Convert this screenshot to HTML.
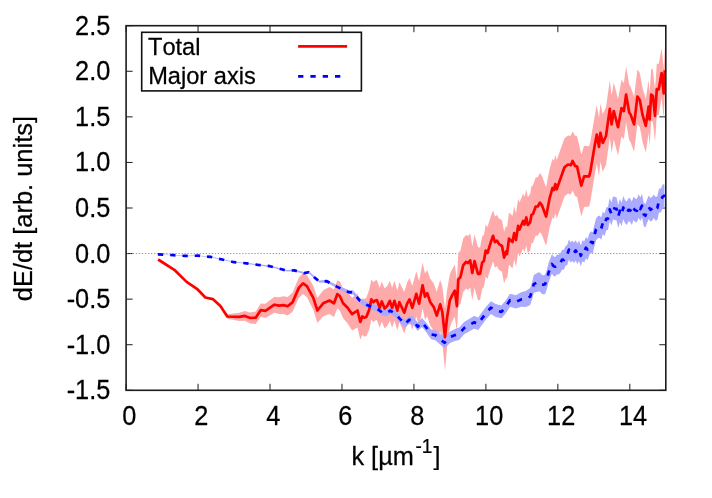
<!DOCTYPE html>
<html><head><meta charset="utf-8"><title>plot</title>
<style>html,body{margin:0;padding:0;background:#fff;}body{width:712px;height:498px;overflow:hidden;font-family:"Liberation Sans",sans-serif;}</style>
</head><body>
<svg width="712" height="498" viewBox="0 0 712 498" style="display:block;will-change:transform">
<rect width="712" height="498" fill="#fff"/>
<path d="M126.10,390.3 v-6.5 M126.10,25.7 v6.5 M198.06,390.3 v-6.5 M198.06,25.7 v6.5 M270.02,390.3 v-6.5 M270.02,25.7 v6.5 M341.98,390.3 v-6.5 M341.98,25.7 v6.5 M413.94,390.3 v-6.5 M413.94,25.7 v6.5 M485.90,390.3 v-6.5 M485.90,25.7 v6.5 M557.86,390.3 v-6.5 M557.86,25.7 v6.5 M629.82,390.3 v-6.5 M629.82,25.7 v6.5 M126.1,390.30 h6.5 M665.8,390.30 h-6.5 M126.1,344.73 h6.5 M665.8,344.73 h-6.5 M126.1,299.15 h6.5 M665.8,299.15 h-6.5 M126.1,253.57 h6.5 M665.8,253.57 h-6.5 M126.1,208.00 h6.5 M665.8,208.00 h-6.5 M126.1,162.43 h6.5 M665.8,162.43 h-6.5 M126.1,116.85 h6.5 M665.8,116.85 h-6.5 M126.1,71.27 h6.5 M665.8,71.27 h-6.5 M126.1,25.70 h6.5 M665.8,25.70 h-6.5" stroke="#000" stroke-width="0.9" fill="none"/>
<line x1="126.1" y1="253.57" x2="665.8" y2="253.57" stroke="#777" stroke-width="0.8" stroke-dasharray="1.3 1.74" stroke-dashoffset="-0.6"/>
<path d="M158.1,259.5 L174.3,269.7 L186.6,281.7 L196.9,288.6 L205.4,297.2 L212.8,298.8 L220.4,304.8 L227.3,314.2 L239.4,312.7 L244.8,311.0 L250.2,312.4 L255.7,311.5 L260.8,303.4 L265.4,303.7 L274.4,296.7 L278.9,297.2 L283.4,296.3 L287.6,297.1 L292.5,292.8 L298.8,277.8 L303.0,272.9 L306.9,275.0 L313.3,285.8 L317.4,298.0 L323.2,290.3 L329.5,287.1 L334.0,289.5 L337.3,280.2 L339.8,281.6 L343.1,288.4 L347.6,292.2 L352.1,297.8 L357.5,293.4 L360.3,304.2 L362.3,298.2 L364.2,298.9 L366.3,297.7 L369.1,290.0 L371.3,279.4 L373.4,282.2 L374.8,280.8 L376.9,280.1 L379.7,287.8 L381.8,281.5 L384.6,288.5 L387.4,285.7 L389.8,280.8 L392.1,287.8 L394.5,280.8 L397.3,290.6 L399.4,282.2 L404.3,292.0 L407.1,282.5 L409.5,277.9 L412.3,285.9 L416.3,271.3 L419.1,280.9 L422.6,262.4 L425.0,273.5 L427.2,269.9 L430.3,278.8 L433.8,283.5 L436.7,291.8 L440.2,280.1 L442.3,285.9 L445.0,308.7 L447.0,290.5 L449.8,274.4 L452.0,269.5 L454.8,264.4 L456.9,279.8 L458.3,253.0 L460.4,250.8 L463.2,238.6 L466.0,235.0 L468.0,236.1 L470.2,233.4 L472.3,246.2 L474.5,234.4 L478.0,247.3 L480.1,247.5 L482.2,236.3 L483.9,234.9 L485.7,224.5 L487.5,227.1 L490.6,217.1 L493.1,210.3 L494.9,216.5 L497.0,215.1 L499.0,218.5 L502.0,220.2 L504.1,231.8 L506.2,225.4 L507.0,228.1 L509.0,212.6 L512.5,215.8 L514.2,206.5 L516.0,213.3 L518.1,199.0 L519.5,202.4 L523.1,193.5 L524.5,196.8 L526.3,189.6 L527.8,196.9 L530.1,194.1 L531.5,186.2 L533.0,185.3 L535.7,177.5 L537.8,177.3 L539.9,173.1 L542.0,176.0 L546.1,187.2 L549.6,169.0 L552.5,158.7 L553.9,160.7 L555.3,154.9 L556.7,160.1 L564.5,138.2 L568.0,135.5 L570.8,135.8 L572.6,131.2 L575.0,135.8 L577.1,136.2 L581.3,154.6 L584.1,145.7 L589.1,146.3 L590.5,140.8 L594.7,115.9 L596.8,105.2 L599.0,117.8 L600.4,103.8 L602.8,114.1 L606.0,107.2 L609.8,80.3 L611.6,95.8 L613.8,82.5 L618.0,98.9 L621.5,80.0 L623.9,82.9 L626.1,66.5 L629.2,84.6 L630.6,86.8 L634.1,96.9 L637.4,69.3 L639.8,72.9 L642.6,88.2 L645.8,99.0 L648.6,79.9 L649.6,93.0 L651.2,68.2 L652.9,69.9 L655.0,90.0 L656.8,63.5 L658.7,64.1 L661.6,48.0 L663.7,68.6 L664.8,45.5 L664.8,94.9 L663.7,118.2 L661.6,98.1 L658.7,114.9 L656.8,114.9 L655.0,141.8 L652.9,122.1 L651.2,120.8 L649.6,146.0 L648.6,133.1 L645.8,152.6 L642.6,142.2 L639.8,127.1 L637.4,123.9 L634.1,151.9 L630.6,142.2 L629.2,140.2 L626.1,122.5 L623.9,139.1 L621.5,136.4 L618.0,155.5 L613.8,139.5 L611.6,153.0 L609.8,137.5 L606.0,164.8 L602.8,171.9 L600.4,161.8 L599.0,176.0 L596.8,163.8 L594.7,175.1 L590.5,200.8 L589.1,206.5 L584.1,207.1 L581.3,216.6 L577.1,197.0 L575.0,196.0 L572.6,190.6 L570.8,194.6 L568.0,193.5 L564.5,196.4 L556.7,218.5 L555.3,213.3 L553.9,219.3 L552.5,217.3 L549.6,227.6 L546.1,246.0 L542.0,235.0 L539.9,232.1 L537.8,235.7 L535.7,235.5 L533.0,242.7 L531.5,243.2 L530.1,250.7 L527.8,253.1 L526.3,245.4 L524.5,252.2 L523.1,248.5 L519.5,256.6 L518.1,252.8 L516.0,266.7 L514.2,259.5 L512.5,268.4 L509.0,264.6 L507.0,279.9 L506.2,277.2 L504.1,283.4 L502.0,271.8 L499.0,269.9 L497.0,266.3 L494.9,267.7 L493.1,261.3 L490.6,268.5 L487.5,278.9 L485.7,276.5 L483.9,287.1 L482.2,288.7 L480.1,300.1 L478.0,300.3 L474.5,287.8 L472.3,299.9 L470.2,287.4 L468.0,289.9 L466.0,288.6 L463.2,291.9 L460.4,303.8 L458.3,305.8 L456.9,332.4 L454.8,316.8 L452.0,321.7 L449.8,327.7 L447.0,348.0 L445.0,370.7 L442.3,342.0 L440.2,331.4 L436.7,339.5 L433.8,330.8 L430.3,325.7 L427.2,316.4 L425.0,319.7 L422.6,308.2 L419.1,326.3 L416.3,316.3 L412.3,329.7 L409.5,320.9 L407.1,324.7 L404.3,333.4 L399.4,322.2 L397.3,330.6 L394.5,320.8 L392.1,327.8 L389.8,320.8 L387.4,325.7 L384.6,328.5 L381.8,321.5 L379.7,327.8 L376.9,320.1 L374.8,320.8 L373.4,322.2 L371.3,319.4 L369.1,330.0 L366.3,336.3 L364.2,336.5 L362.3,334.8 L360.3,339.8 L357.5,327.6 L352.1,330.4 L347.6,323.4 L343.1,318.2 L339.8,310.4 L337.3,308.2 L334.0,317.1 L329.5,313.9 L323.2,316.3 L317.4,323.0 L313.3,309.8 L306.9,297.2 L303.0,293.9 L298.8,298.0 L292.5,312.0 L287.6,315.5 L283.4,313.9 L278.9,314.0 L274.4,312.7 L265.4,317.9 L260.8,316.8 L255.7,323.9 L250.2,323.6 L244.8,320.8 L239.4,320.9 L227.3,318.8 L220.4,307.2 L212.8,299.4 L205.4,297.8 L196.9,289.0 L186.6,282.1 L174.3,269.9 L158.1,259.5Z" fill="#ffaaaa"/>
<path d="M157.9,254.0 L173.4,254.9 L185.0,255.6 L197.8,255.4 L210.5,256.6 L222.2,259.1 L234.0,261.8 L246.6,262.8 L258.1,264.3 L269.9,265.5 L282.5,268.7 L287.0,269.9 L294.3,269.5 L304.2,272.1 L308.7,271.1 L315.1,276.8 L319.6,280.4 L326.8,279.8 L336.7,285.1 L348.5,290.1 L353.0,290.2 L357.5,295.4 L360.0,298.2 L367.0,302.2 L372.7,304.1 L376.9,305.5 L382.5,309.6 L386.0,310.0 L390.2,307.3 L395.9,310.7 L399.4,314.9 L405.0,320.3 L409.2,315.9 L413.4,316.7 L417.7,322.4 L422.0,318.0 L426.5,323.1 L431.1,329.5 L435.3,330.0 L440.2,334.0 L444.5,337.3 L450.1,331.4 L455.0,329.1 L459.2,327.5 L464.1,321.9 L469.1,319.0 L474.0,316.1 L478.2,317.5 L481.7,312.6 L485.9,307.0 L490.9,301.3 L495.8,304.1 L501.4,305.5 L505.6,300.6 L510.0,293.7 L516.0,295.3 L521.0,292.2 L525.8,291.1 L530.2,288.0 L532.1,281.9 L533.8,275.1 L538.0,272.5 L540.0,272.6 L541.7,274.7 L543.4,275.2 L545.1,274.7 L546.8,270.0 L548.5,263.2 L550.2,258.7 L551.9,254.3 L553.6,256.4 L555.3,256.9 L557.0,254.6 L558.7,254.8 L560.4,253.0 L562.1,249.8 L563.8,250.0 L565.5,245.9 L567.2,245.0 L568.9,239.6 L570.6,242.3 L572.3,240.8 L574.0,242.6 L575.7,240.2 L577.4,243.5 L579.1,240.4 L580.8,245.4 L582.5,240.2 L584.2,241.4 L585.9,237.1 L587.6,239.0 L589.3,233.4 L591.0,231.3 L592.7,232.2 L594.4,224.5 L596.1,218.2 L597.8,216.3 L599.5,215.5 L601.2,217.4 L602.9,211.6 L604.6,213.5 L606.3,207.6 L608.0,207.1 L609.7,197.9 L611.4,202.4 L613.1,196.3 L614.8,196.9 L616.5,197.3 L618.2,204.9 L619.9,199.1 L621.6,202.7 L623.3,195.9 L625.0,199.9 L626.7,201.6 L628.4,198.2 L630.1,198.3 L631.8,201.5 L633.5,196.7 L635.2,198.6 L636.9,199.0 L638.6,194.3 L640.3,197.4 L642.0,193.8 L643.7,202.5 L645.4,203.9 L647.1,199.2 L648.8,195.4 L650.5,197.9 L652.2,196.7 L653.9,194.4 L655.6,196.9 L657.3,196.2 L659.0,188.6 L660.7,188.7 L662.4,185.1 L664.1,183.8 L664.5,186.1 L664.5,210.1 L664.1,207.8 L662.4,209.1 L660.7,212.6 L659.0,212.4 L657.3,220.0 L655.6,220.7 L653.9,218.1 L652.2,220.4 L650.5,221.7 L648.8,219.1 L647.1,222.8 L645.4,227.5 L643.7,226.1 L642.0,217.4 L640.3,220.9 L638.6,217.8 L636.9,222.5 L635.2,222.0 L633.5,220.1 L631.8,224.9 L630.1,221.7 L628.4,221.6 L626.7,224.9 L625.0,223.2 L623.3,219.1 L621.6,225.9 L619.9,222.2 L618.2,228.1 L616.5,220.4 L614.8,220.0 L613.1,219.4 L611.4,225.4 L609.7,220.9 L608.0,230.0 L606.3,230.3 L604.6,236.1 L602.9,234.0 L601.2,239.8 L599.5,237.7 L597.8,238.4 L596.1,240.2 L594.4,246.3 L592.7,253.9 L591.0,252.8 L589.3,254.9 L587.6,260.3 L585.9,258.3 L584.2,262.5 L582.5,261.2 L580.8,266.2 L579.1,261.1 L577.4,264.0 L575.7,260.6 L574.0,262.9 L572.3,261.0 L570.6,262.4 L568.9,259.6 L567.2,264.9 L565.5,265.8 L563.8,269.8 L562.1,269.5 L560.4,272.7 L558.7,274.4 L557.0,274.2 L555.3,276.5 L553.6,275.9 L551.9,273.7 L550.2,278.1 L548.5,282.5 L546.8,289.3 L545.1,293.9 L543.4,294.4 L541.7,293.8 L540.0,291.6 L538.0,291.5 L533.8,293.1 L532.1,299.3 L530.2,305.0 L525.8,306.9 L521.0,306.8 L516.0,308.5 L510.0,306.7 L505.6,313.4 L501.4,318.3 L495.8,316.9 L490.9,314.1 L485.9,319.6 L481.7,325.2 L478.2,330.1 L474.0,328.7 L469.1,331.4 L464.1,334.3 L459.2,339.9 L455.0,341.1 L450.1,343.0 L444.5,348.3 L440.2,344.6 L435.3,340.2 L431.1,339.3 L426.5,332.5 L422.0,327.0 L417.7,331.0 L413.4,324.9 L409.2,323.7 L405.0,327.7 L399.4,321.9 L395.9,317.5 L390.2,313.9 L386.0,316.4 L382.5,315.8 L376.9,311.5 L372.7,310.1 L367.0,307.8 L360.0,303.4 L357.5,300.2 L353.0,294.6 L348.5,294.1 L336.7,288.1 L326.8,282.6 L319.6,282.8 L315.1,279.2 L308.7,273.3 L304.2,274.1 L294.3,271.3 L287.0,271.5 L282.5,270.3 L269.9,266.9 L258.1,265.5 L246.6,263.8 L234.0,262.6 L222.2,259.9 L210.5,257.2 L197.8,256.0 L185.0,256.2 L173.4,255.5 L157.9,254.6Z" fill="#aaaaff"/>
<path d="M158.1,259.5 L174.3,269.8 L186.6,281.9 L196.9,288.8 L205.4,297.5 L212.8,299.1 L220.4,306.0 L227.3,316.5 L239.4,316.8 L244.8,315.9 L250.2,318.0 L255.7,317.7 L260.8,310.1 L265.4,310.8 L274.4,304.7 L278.9,305.6 L283.4,305.1 L287.6,306.3 L292.5,302.4 L298.8,287.9 L303.0,283.4 L306.9,286.1 L313.3,297.8 L317.4,310.5 L323.2,303.3 L329.5,300.5 L334.0,303.3 L337.3,294.2 L339.8,296.0 L343.1,303.3 L347.6,307.8 L352.1,314.1 L357.5,310.5 L360.3,322.0 L362.3,316.5 L364.2,317.7 L366.3,317.0 L369.1,310.0 L371.3,299.4 L373.4,302.2 L374.8,300.8 L376.9,300.1 L379.7,307.8 L381.8,301.5 L384.6,308.5 L387.4,305.7 L389.8,300.8 L392.1,307.8 L394.5,300.8 L397.3,310.6 L399.4,302.2 L404.3,312.7 L407.1,303.6 L409.5,299.4 L412.3,307.8 L416.3,293.8 L419.1,303.6 L422.6,285.3 L425.0,296.6 L427.2,293.1 L430.3,302.2 L433.8,307.1 L436.7,315.6 L440.2,304.3 L442.3,312.0 L445.0,337.2 L447.0,318.0 L449.8,300.5 L452.0,295.6 L454.8,290.6 L456.9,306.1 L458.3,279.4 L460.4,277.3 L463.2,265.3 L466.0,261.8 L468.0,263.0 L470.2,260.4 L472.3,273.0 L474.5,261.1 L478.0,273.8 L480.1,273.8 L482.2,262.5 L483.9,261.0 L485.7,250.5 L487.5,253.0 L490.6,242.8 L493.1,235.8 L494.9,242.1 L497.0,240.7 L499.0,244.2 L502.0,246.0 L504.1,257.6 L506.2,251.3 L507.0,254.0 L509.0,238.6 L512.5,242.1 L514.2,233.0 L516.0,240.0 L518.1,225.9 L519.5,229.5 L523.1,221.0 L524.5,224.5 L526.3,217.5 L527.8,225.0 L530.1,222.4 L531.5,214.7 L533.0,214.0 L535.7,206.5 L537.8,206.5 L539.9,202.6 L542.0,205.5 L546.1,216.6 L549.6,198.3 L552.5,188.0 L553.9,190.0 L555.3,184.1 L556.7,189.3 L564.5,167.3 L568.0,164.5 L570.8,165.2 L572.6,160.9 L575.0,165.9 L577.1,166.6 L581.3,185.6 L584.1,176.4 L589.1,176.4 L590.5,170.8 L594.7,145.5 L596.8,134.5 L599.0,146.9 L600.4,132.8 L602.8,143.0 L606.0,136.0 L609.8,108.9 L611.6,124.4 L613.8,111.0 L618.0,127.2 L621.5,108.2 L623.9,111.0 L626.1,94.5 L629.2,112.4 L630.6,114.5 L634.1,124.4 L637.4,96.6 L639.8,100.0 L642.6,115.2 L645.8,125.8 L648.6,106.5 L649.6,119.5 L651.2,94.5 L652.9,96.0 L655.0,115.9 L656.8,89.2 L658.7,89.5 L661.6,73.1 L663.7,93.4 L664.8,70.2" stroke="#ff0000" stroke-width="2.7" fill="none" stroke-linejoin="round"/>
<path d="M157.9,254.3 L173.4,255.2 L185.0,255.9 L197.8,255.7 L210.5,256.9 L222.2,259.5 L234.0,262.2 L246.6,263.3 L258.1,264.9 L269.9,266.2 L282.5,269.5 L287.0,270.7 L294.3,270.4 L304.2,273.1 L308.7,272.2 L315.1,278.0 L319.6,281.6 L326.8,281.2 L336.7,286.6 L348.5,292.1 L353.0,292.4 L357.5,297.8 L360.0,300.8 L367.0,305.0 L372.7,307.1 L376.9,308.5 L382.5,312.7 L386.0,313.2 L390.2,310.6 L395.9,314.1 L399.4,318.4 L405.0,324.0 L409.2,319.8 L413.4,320.8 L417.7,326.7 L422.0,322.5 L426.5,327.8 L431.1,334.4 L435.3,335.1 L440.2,339.3 L444.5,342.8 L450.1,337.2 L455.0,335.1 L459.2,333.7 L464.1,328.1 L469.1,325.2 L474.0,322.4 L478.2,323.8 L481.7,318.9 L485.9,313.3 L490.9,307.7 L495.8,310.5 L501.4,311.9 L505.6,307.0 L510.0,300.2 L516.0,301.9 L521.0,299.5 L525.8,299.0 L530.2,296.5 L532.1,290.6 L533.8,284.1 L538.0,282.0 L540.0,282.1 L541.7,284.2 L543.4,284.8 L545.1,284.3 L546.8,279.6 L548.5,272.8 L550.2,268.4 L551.9,264.0 L553.6,266.2 L555.3,266.7 L557.0,264.4 L558.7,264.6 L560.4,262.8 L562.1,259.6 L563.8,259.9 L565.5,255.8 L567.2,254.9 L568.9,249.6 L570.6,252.3 L572.3,250.9 L574.0,252.7 L575.7,250.4 L577.4,253.7 L579.1,250.8 L580.8,255.8 L582.5,250.7 L584.2,252.0 L585.9,247.7 L587.6,249.6 L589.3,244.2 L591.0,242.0 L592.7,243.0 L594.4,235.4 L596.1,229.2 L597.8,227.3 L599.5,226.6 L601.2,228.6 L602.9,222.8 L604.6,224.8 L606.3,218.9 L608.0,218.6 L609.7,209.4 L611.4,213.9 L613.1,207.9 L614.8,208.5 L616.5,208.9 L618.2,216.5 L619.9,210.7 L621.6,214.3 L623.3,207.5 L625.0,211.5 L626.7,213.2 L628.4,209.9 L630.1,210.0 L631.8,213.2 L633.5,208.4 L635.2,210.3 L636.9,210.8 L638.6,206.1 L640.3,209.1 L642.0,205.6 L643.7,214.3 L645.4,215.7 L647.1,211.0 L648.8,207.2 L650.5,209.8 L652.2,208.5 L653.9,206.3 L655.6,208.8 L657.3,208.1 L659.0,200.5 L660.7,200.6 L662.4,197.1 L664.1,195.8 L664.5,198.1" stroke="#0000ff" stroke-width="2.7" fill="none" stroke-dasharray="5.3 7" stroke-linejoin="round"/>
<rect x="126.1" y="25.7" width="539.6999999999999" height="364.6" fill="none" stroke="#1c1c1c" stroke-width="1.6"/>
<rect x="141.7" y="32.3" width="219.7" height="58.6" fill="#fff" stroke="#111" stroke-width="1.6"/>
<line x1="298.1" y1="46.4" x2="347.1" y2="46.4" stroke="#ff0000" stroke-width="2.7"/>
<line x1="298.1" y1="76.3" x2="347.1" y2="76.3" stroke="#0000ff" stroke-width="2.7" stroke-dasharray="5.3 7"/>
<g font-family="Liberation Sans, sans-serif" fill="#000" stroke="#000" stroke-width="0.25" style="font-kerning:none">
<text transform="translate(148.00,54.80) scale(0.964,1)" font-size="24.5" text-anchor="start">Total</text>
<text transform="translate(148.20,84.40) scale(0.964,1)" font-size="24.5" text-anchor="start">Major axis</text>
<text transform="translate(110.30,399.30) scale(0.945,1)" font-size="26.8" text-anchor="end">-1.5</text>
<text transform="translate(110.30,353.73) scale(0.945,1)" font-size="26.8" text-anchor="end">-1.0</text>
<text transform="translate(110.30,308.15) scale(0.945,1)" font-size="26.8" text-anchor="end">-0.5</text>
<text transform="translate(110.30,262.57) scale(0.945,1)" font-size="26.8" text-anchor="end">0.0</text>
<text transform="translate(110.30,217.00) scale(0.945,1)" font-size="26.8" text-anchor="end">0.5</text>
<text transform="translate(110.30,171.43) scale(0.945,1)" font-size="26.8" text-anchor="end">1.0</text>
<text transform="translate(110.30,125.85) scale(0.945,1)" font-size="26.8" text-anchor="end">1.5</text>
<text transform="translate(110.30,80.27) scale(0.945,1)" font-size="26.8" text-anchor="end">2.0</text>
<text transform="translate(110.30,34.70) scale(0.945,1)" font-size="26.8" text-anchor="end">2.5</text>
<text transform="translate(129.40,424.80) scale(0.945,1)" font-size="26.8" text-anchor="middle">0</text>
<text transform="translate(201.36,424.80) scale(0.945,1)" font-size="26.8" text-anchor="middle">2</text>
<text transform="translate(273.32,424.80) scale(0.945,1)" font-size="26.8" text-anchor="middle">4</text>
<text transform="translate(345.28,424.80) scale(0.945,1)" font-size="26.8" text-anchor="middle">6</text>
<text transform="translate(417.24,424.80) scale(0.945,1)" font-size="26.8" text-anchor="middle">8</text>
<text transform="translate(489.20,424.80) scale(0.945,1)" font-size="26.8" text-anchor="middle">10</text>
<text transform="translate(561.16,424.80) scale(0.945,1)" font-size="26.8" text-anchor="middle">12</text>
<text transform="translate(633.12,424.80) scale(0.945,1)" font-size="26.8" text-anchor="middle">14</text>
<text transform="translate(351.40,465.30) scale(0.975,1)" font-size="26.0" text-anchor="start">k [µm</text>
<text transform="translate(415.50,452.80) scale(0.93,1)" font-size="20.5" text-anchor="start">-1</text>
<text transform="translate(433.40,465.30) scale(0.965,1)" font-size="26.0" text-anchor="start">]</text>
<text transform="translate(32.30,208.60) rotate(-90) scale(0.96,1)" font-size="26.5" text-anchor="middle">dE/dt [arb. units]</text>
</g>
</svg>
</body></html>
